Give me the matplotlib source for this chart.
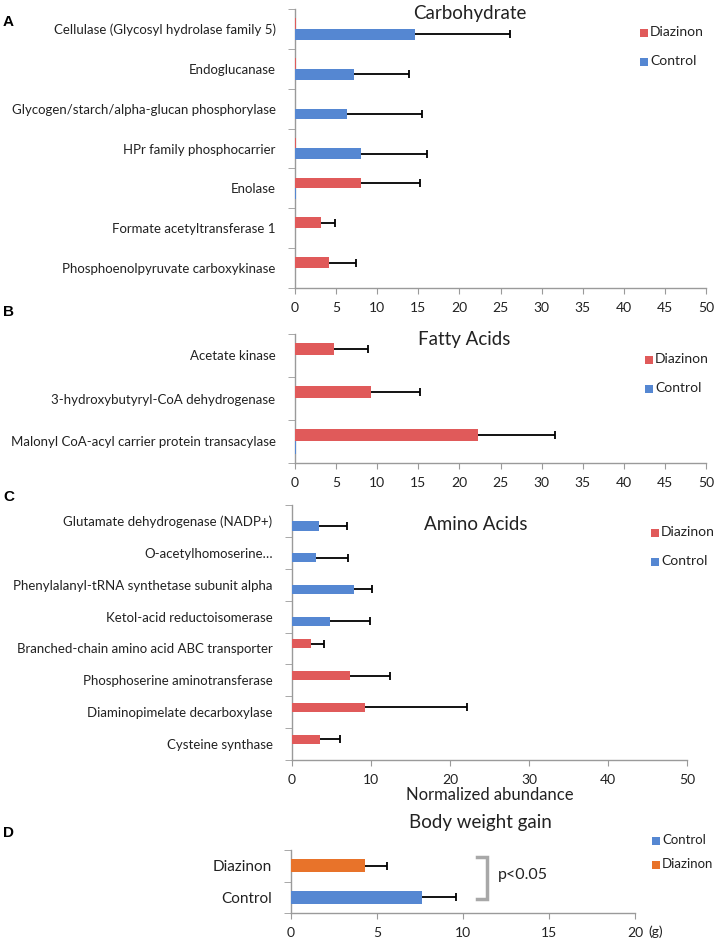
import matplotlib

matplotlib.use("Agg")
import matplotlib.pyplot as plt
import numpy as np
from matplotlib.patches import Rectangle

plt.rcParams.update({
    "font.family": ["Lato", "DejaVu Sans"],
    "font.size": 9.5,
})

W, H = 720, 938
BLUE = "#5587d2"
RED = "#e05a5a"
ORANGE = "#e8732a"
AXC = "#9a9a9a"
INK = "#222222"

# ---- A: carbohydrate (top to bottom) ----
carb_cats = ["Cellulase (Glycosyl hydrolase family 5)", "Endoglucanase",
             "Glycogen/starch/alpha-glucan phosphorylase",
             "HPr family phosphocarrier", "Enolase",
             "Formate acetyltransferase 1",
             "Phosphoenolpyruvate carboxykinase"]
carb_diaz = [0.15, 0.15, 0, 0.15, 8.05, 3.2, 4.1]
carb_ctrl = [14.6, 7.2, 6.3, 8.0, 0.15, 0, 0]
carb_err = [11.5, 6.7, 9.2, 8.0, 7.15, 1.7, 3.3]

# ---- B: fatty acids ----
fa_cats = ["Acetate kinase", "3-hydroxybutyryl-CoA dehydrogenase",
           "Malonyl CoA-acyl carrier protein transacylase"]
fa_diaz = [4.8, 9.2, 22.3]
fa_ctrl = [0, 0, 0.15]
fa_err = [4.1, 6.0, 9.3]

# ---- C: amino acids ----
aa_cats = ["Glutamate dehydrogenase (NADP+)", "O-acetylhomoserine\u2026",
           "Phenylalanyl-tRNA synthetase subunit alpha",
           "Ketol-acid reductoisomerase",
           "Branched-chain amino acid ABC transporter",
           "Phosphoserine aminotransferase",
           "Diaminopimelate decarboxylase", "Cysteine synthase"]
aa_diaz = [0, 0, 0, 0, 2.4, 7.3, 9.3, 3.55]
aa_ctrl = [3.4, 3.1, 7.9, 4.8, 0, 0, 0, 0]
aa_err = [3.6, 4.0, 2.2, 5.05, 1.7, 5.1, 12.9, 2.5]

# ---- D: body weight gain ----
bw_cats = ["Diazinon", "Control"]
bw_vals = [4.28, 7.6]
bw_err = [1.28, 1.97]
bw_cols = [ORANGE, BLUE]


def rect(left, top, right, bottom):
    """pixel box -> figure fraction [l, b, w, h]"""
    return [left / W, 1 - bottom / H, (right - left) / W, (bottom - top) / H]


def ftext(fig, x, y, s, **kw):
    fig.text(x / W, 1 - y / H, s, va="center", **kw)


def legend(fig, x, y, entries, gap=29, fs=10):
    for k, (lab, col) in enumerate(entries):
        yy = y + k * gap
        fig.patches.append(Rectangle((x / W, 1 - (yy + 4) / H), 8 / W, 8 / H,
                                     transform=fig.transFigure, fc=col,
                                     ec="none"))
        ftext(fig, x + 10, yy - 1, lab, fontsize=fs, color=INK)


def style(ax, n, xmax, step):
    ax.set_xlim(0, xmax)
    ax.set_ylim(n - 0.5, -0.5)
    ax.set_xticks(np.arange(0, xmax + 0.1, step))
    ax.set_yticks(np.arange(n - 0.5 + 1) - 0.5, minor=True)
    ax.tick_params(axis="y", which="major", length=0, pad=14, labelsize=9.5,
                   labelcolor=INK)
    ax.tick_params(axis="y", which="minor", length=5, color=AXC,
                   direction="out")
    ax.tick_params(axis="x", length=4, color=AXC, labelsize=10,
                   labelcolor=INK, pad=6)
    for s in ("top", "right"):
        ax.spines[s].set_visible(False)
    for s in ("left", "bottom"):
        ax.spines[s].set_color(AXC)
        ax.spines[s].set_linewidth(1.0)


def errs(ax, y, vals, err):
    for yy, v, e in zip(y, vals, err):
        ax.hlines(yy, v, v + e, color="black", lw=1.3, zorder=4)
        ax.plot(v + e, yy, marker="|", ms=6, mew=1.3, color="black",
                zorder=4)


def grouped(ax, cats, diaz, ctrl, err, xmax, step, h=0.27):
    n = len(cats)
    y = np.arange(n)
    ax.barh(y - h / 2, diaz, height=h, color=RED, zorder=3)
    ax.barh(y + h / 2, ctrl, height=h, color=BLUE, zorder=3)
    ends = [d if d >= c else c for d, c in zip(diaz, ctrl)]
    ys = [yy - h / 2 if d >= c else yy + h / 2
          for yy, d, c in zip(y, diaz, ctrl)]
    errs(ax, ys, ends, err)
    ax.set_yticks(y)
    ax.set_yticklabels(cats)
    style(ax, n, xmax, step)


fig = plt.figure(figsize=(W / 100, H / 100), dpi=100)

axA = fig.add_axes(rect(295, 9, 706, 288))
grouped(axA, carb_cats, carb_diaz, carb_ctrl, carb_err, 50, 5)
axB = fig.add_axes(rect(295, 334, 706, 463))
grouped(axB, fa_cats, fa_diaz, fa_ctrl, fa_err, 50, 5, h=0.3)
axC = fig.add_axes(rect(292, 505, 687, 760))
grouped(axC, aa_cats, aa_diaz, aa_ctrl, aa_err, 50, 10, h=0.3)
axC.set_xlabel("Normalized abundance", fontsize=12, color=INK, labelpad=1)

axD = fig.add_axes(rect(291, 850, 635, 913))
yd = np.arange(len(bw_cats))
axD.barh(yd, bw_vals, height=0.42, color=bw_cols, zorder=3)
errs(axD, yd, bw_vals, bw_err)
axD.set_yticks(yd)
axD.set_yticklabels(bw_cats)
style(axD, 2, 20, 5)
axD.tick_params(axis="y", which="major", labelsize=11)
axD.plot([10.8, 11.4, 11.4, 10.8], [-0.28, -0.28, 1.05, 1.05],
         color="#a8a8a8", lw=2.5, solid_joinstyle="miter", zorder=4)
axD.text(12.0, 0.29, "p<0.05", fontsize=11.5, va="center", color=INK)

# titles, panel letters, legends
ftext(fig, 470, 13, "Carbohydrate", fontsize=13.5, ha="center", color=INK)
ftext(fig, 464, 339, "Fatty Acids", fontsize=13.5, ha="center", color=INK)
ftext(fig, 476, 525, "Amino Acids", fontsize=13.5, ha="center", color=INK)
ftext(fig, 480, 822, "Body weight gain", fontsize=13.5, ha="center",
      color=INK)
ftext(fig, 648, 932, "(g)", fontsize=10, color=INK)

for lab, yy in (("A", 22), ("B", 312), ("C", 497), ("D", 833)):
    ftext(fig, 3, yy, lab, fontsize=11, weight="bold",
          family=["Liberation Sans", "DejaVu Sans"])

legend(fig, 640, 33, [("Diazinon", RED), ("Control", BLUE)])
legend(fig, 645, 360, [("Diazinon", RED), ("Control", BLUE)])
legend(fig, 651, 533, [("Diazinon", RED), ("Control", BLUE)])
legend(fig, 652, 841, [("Control", BLUE), ("Diazinon", ORANGE)], gap=24,
       fs=9.5)

fig.savefig("out.png", dpi=100)
